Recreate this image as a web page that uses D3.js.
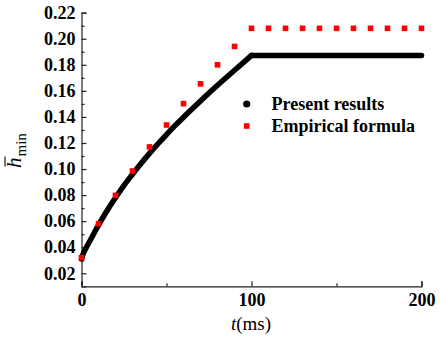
<!DOCTYPE html>
<html>
<head>
<meta charset="utf-8">
<script src="https://cdn.jsdelivr.net/npm/d3@7"></script>
<style>
  html, body { margin: 0; padding: 0; background: #fff; }
  svg { display: block; }
</style>
</head>
<body>
<svg id="chart" width="439" height="338"></svg>
<script>
// Time (ms) and dimensionless minimum film thickness from the present model
const presentT = [0, 1, 2.5, 5, 10, 15, 20, 25, 30, 35, 40, 45, 50, 55, 60, 65, 70, 75, 80, 85, 90, 95, 100, 120, 140, 160, 180, 200];
const presentH = [0.031, 0.035, 0.039, 0.045, 0.057, 0.068, 0.078, 0.0875, 0.096, 0.1042, 0.112, 0.1194, 0.1265, 0.1333, 0.1398, 0.1461, 0.1523, 0.1584, 0.1643, 0.1701, 0.1758, 0.1815, 0.1872, 0.1872, 0.1872, 0.1872, 0.1872, 0.1872];

// Empirical formula, sampled every 10 ms
const empiricalT = [0, 10, 20, 30, 40, 50, 60, 70, 80, 90, 100, 110, 120, 130, 140, 150, 160, 170, 180, 190, 200];
const empiricalH = [0.032, 0.058, 0.0798, 0.0985, 0.117, 0.1338, 0.1502, 0.1654, 0.180, 0.1941, 0.208, 0.208, 0.208, 0.208, 0.208, 0.208, 0.208, 0.208, 0.208, 0.208, 0.208];

const xTicks = [0, 100, 200];
const xMinorTicks = [50, 150];
const yTicks = [0.02, 0.04, 0.06, 0.08, 0.10, 0.12, 0.14, 0.16, 0.18, 0.20, 0.22];
const yMinorTicks = [0.03, 0.05, 0.07, 0.09, 0.11, 0.13, 0.15, 0.17, 0.19, 0.21];

const legendLabels = ["Present results", "Empirical formula"];

const serif = "Liberation Serif";
const svg = d3.select("#chart");
const x = d3.scaleLinear().domain([0, 200]).range([81.5, 421.5]);
const y = d3.scaleLinear().domain([0.01, 0.22]).range([286.3, 12.7]);

// Axes: ticks point inward, minor ticks shorter
const axisColor = "#222";
const gx = svg.append("g").attr("transform", `translate(0,${y(0.01)})`)
  .call(d3.axisBottom(x).tickValues(xTicks).tickFormat(d3.format("d")).tickSize(-5).tickPadding(7));
const gxm = svg.append("g").attr("transform", `translate(0,${y(0.01)})`)
  .call(d3.axisBottom(x).tickValues(xMinorTicks).tickFormat("").tickSize(-3));
const gy = svg.append("g").attr("transform", `translate(${x(0)},0)`)
  .call(d3.axisLeft(y).tickValues(yTicks).tickFormat(d3.format(".2f")).tickSize(-5).tickPadding(6));
const gym = svg.append("g").attr("transform", `translate(${x(0)},0)`)
  .call(d3.axisLeft(y).tickValues(yMinorTicks).tickFormat("").tickSize(-3));
[gx, gxm, gy, gym].forEach(g => {
  g.selectAll(".domain").attr("stroke", axisColor).attr("stroke-width", 1.2);
  g.selectAll(".tick line").attr("stroke", axisColor).attr("stroke-width", 1.2);
  g.selectAll(".tick text")
    .attr("font-family", serif)
    .attr("font-weight", "bold")
    .attr("font-size", 18)
    .attr("fill", "#000");
});
gxm.select(".domain").remove();
gym.select(".domain").remove();

// Present results: dense points drawn as a thick round-capped trace
const presentData = presentT.map((t, i) => ({ t, h: presentH[i] }));
const traceStyle = sel => sel
  .attr("fill", "none")
  .attr("stroke", "#000")
  .attr("stroke-width", 5.5)
  .attr("stroke-linecap", "round")
  .attr("stroke-linejoin", "round");
svg.append("path")
  .datum(presentData.filter(d => d.t <= 100))
  .attr("d", d3.line().x(d => x(d.t)).y(d => y(d.h)).curve(d3.curveMonotoneX))
  .call(traceStyle);
svg.append("path")
  .datum(presentData.filter(d => d.t >= 100))
  .attr("d", d3.line().x(d => x(d.t)).y(d => y(d.h)))
  .call(traceStyle);

// Empirical formula: red squares
const sq = 5.6;
svg.append("g").selectAll("rect")
  .data(empiricalT.map((t, i) => ({ t, h: empiricalH[i] })))
  .join("rect")
  .attr("x", d => x(d.t) - sq / 2)
  .attr("y", d => y(d.h) - sq / 2)
  .attr("width", sq)
  .attr("height", sq)
  .attr("fill", "#ff0000");

// Legend
const legend = svg.append("g");
legend.append("circle").attr("cx", 246.7).attr("cy", 104).attr("r", 3.6).attr("fill", "#000");
legend.append("rect").attr("x", 246.7 - sq / 2).attr("y", 126 - sq / 2).attr("width", sq).attr("height", sq).attr("fill", "#ff0000");
legend.selectAll("text")
  .data(legendLabels)
  .join("text")
  .attr("x", 271.5)
  .attr("y", (d, i) => 110 + i * 22)
  .attr("font-family", serif)
  .attr("font-weight", "bold")
  .attr("font-size", 18)
  .attr("fill", "#000")
  .text(d => d);

// X axis title: t(ms)
const xt = svg.append("text")
  .attr("x", 251)
  .attr("y", 330)
  .attr("text-anchor", "middle")
  .attr("font-family", serif)
  .attr("font-size", 19)
  .attr("fill", "#000");
xt.append("tspan").attr("font-style", "italic").text("t");
xt.append("tspan").text("(ms)");

// Y axis title: h-bar with subscript "min"
const yt = svg.append("g").attr("transform", "translate(21,168) rotate(-90)");
const ytext = yt.append("text")
  .attr("x", 0)
  .attr("y", 0)
  .attr("font-family", serif)
  .attr("font-size", 21)
  .attr("fill", "#000");
ytext.append("tspan").attr("font-style", "italic").text("h");
ytext.append("tspan").attr("font-size", 15).attr("dy", 5).attr("dx", 1).text("min");
yt.append("line")
  .attr("x1", 1.5).attr("x2", 11.5)
  .attr("y1", -16).attr("y2", -16)
  .attr("stroke", "#000").attr("stroke-width", 1.1);
</script>
</body>
</html>
